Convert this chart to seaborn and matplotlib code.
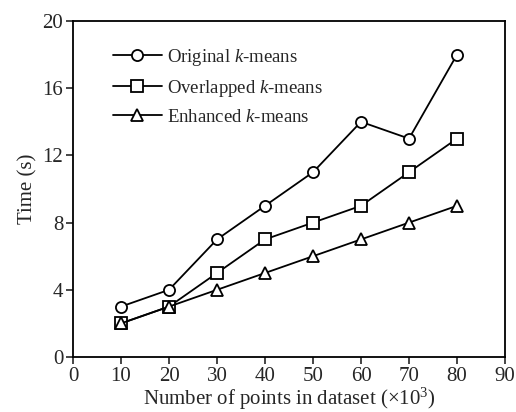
import matplotlib
matplotlib.use("Agg")
import matplotlib.pyplot as plt
import seaborn as sns
import pandas as pd

x_vals = [10, 20, 30, 40, 50, 60, 70, 80]
original = [3, 4, 7, 9, 11, 14, 13, 18]
overlapped = [2, 3, 5, 7, 8, 9, 11, 13]
enhanced = [2, 3, 4, 5, 6, 7, 8, 9]
series_names = ["Original $k$-means", "Overlapped $k$-means", "Enhanced $k$-means"]
x_ticks = [0, 10, 20, 30, 40, 50, 60, 70, 80, 90]
y_ticks = [0, 4, 8, 12, 16, 20]

rows = []
for name, vals in zip(series_names, [original, overlapped, enhanced]):
    for xv, yv in zip(x_vals, vals):
        rows.append({"x": xv, "y": yv, "series": name})
df = pd.DataFrame(rows)

sns.set_style("ticks")
plt.rcParams["font.family"] = ["Liberation Serif", "DejaVu Serif"]
plt.rcParams["mathtext.fontset"] = "custom"
plt.rcParams["mathtext.it"] = "Liberation Serif:italic"
plt.rcParams["mathtext.rm"] = "Liberation Serif"

fig = plt.figure(figsize=(5.16, 4.12), dpi=100)
ax = fig.add_axes([0.1415, 0.1335, 0.8372, 0.8155])

markers = {series_names[0]: "o", series_names[1]: "s", series_names[2]: "^"}
sns.lineplot(data=df, x="x", y="y", hue="series", style="series",
             markers=markers, dashes=False,
             palette=["black"] * 3, ax=ax, linewidth=1.3,
             markersize=8, markerfacecolor="white", markeredgecolor="black",
             markeredgewidth=1.3)

ax.set_xlim(0, 90)
ax.set_ylim(0, 20)
ax.set_xticks(x_ticks)
ax.set_yticks(y_ticks)
ax.tick_params(axis="both", labelsize=15, direction="out", length=5, width=1.2,
               top=False, right=False, pad=2)
for s in ax.spines.values():
    s.set_linewidth(1.3)
    s.set_color("black")
    s.set_visible(True)

ax.set_xlabel("Number of points in dataset (×10$^3$)", fontsize=15, labelpad=0)
ax.set_ylabel("Time (s)", fontsize=15, labelpad=4)

handles, labels = ax.get_legend_handles_labels()
leg = ax.legend(handles, labels, loc="upper left", bbox_to_anchor=(0.075, 0.945),
                frameon=False, fontsize=13.5, handlelength=2.6, handletextpad=0.3,
                labelspacing=0.52, borderaxespad=0)
for h in leg.legend_handles:
    h.set_markerfacecolor("white")
    h.set_markeredgecolor("black")

fig.savefig("out.png", dpi=100)
